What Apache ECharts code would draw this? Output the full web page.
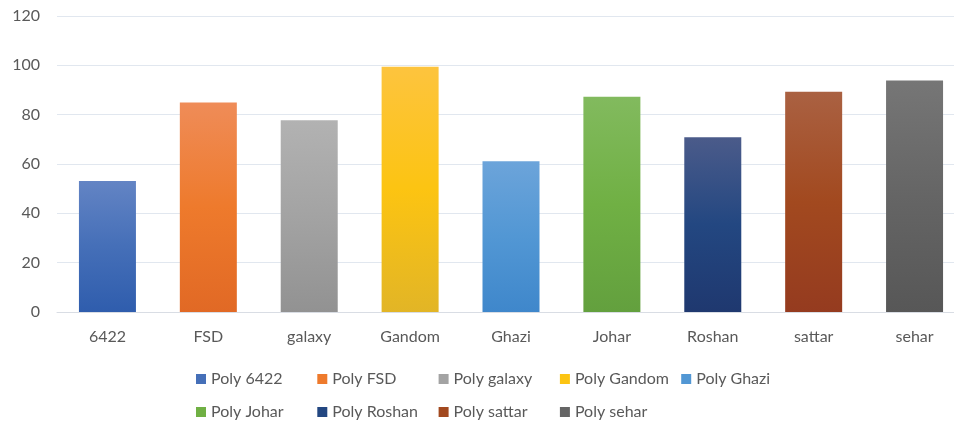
<!DOCTYPE html>
<html>
<head>
<meta charset="utf-8">
<style>
  html, body { margin: 0; padding: 0; background: #fff; overflow: hidden; }
  #container { width: 966px; height: 426px; }
</style>
<script src="https://cdn.jsdelivr.net/npm/echarts@6/dist/echarts.min.js"></script>
</head>
<body>
<div id="container"></div>
<script>
// categories on the x axis
var categories = ['6422', 'FSD', 'galaxy', 'Gandom', 'Ghazi', 'Johar', 'Roshan', 'sattar', 'sehar']
// one series per variety, legend names
var seriesNames = ['Poly 6422', 'Poly FSD', 'Poly galaxy', 'Poly Gandom', 'Poly Ghazi',
    'Poly Johar', 'Poly Roshan', 'Poly sattar', 'Poly sehar']
// bar heights
var values = [53.1, 84.9, 77.7, 99.4, 61.1, 87.3, 70.8, 89.3, 93.9]
// y axis ticks
var yTicks = [0, 20, 40, 60, 80, 100, 120]

// colours: light top, base middle, dark bottom
var colorStops = [
    ['#6384c4', '#456fb8', '#2f5dad'],
    ['#ef8c58', '#ee7a2c', '#e16925'],
    ['#b2b2b2', '#a3a3a3', '#929292'],
    ['#fdc43e', '#fcc412', '#e2b526'],
    ['#6ca4da', '#5297d4', '#3f87cb'],
    ['#82ba5e', '#70b044', '#63a03e'],
    ['#4b5b8a', '#234781', '#1f386f'],
    ['#aa6142', '#a2491f', '#953b1f'],
    ['#767676', '#656565', '#575757']
]

var dom = document.getElementById('container')
var myChart = echarts.init(dom)
var fontFamily = 'Lato'

var series = []
for (var i = 0; i < seriesNames.length; i++) {
    var data = []
    for (var j = 0; j < categories.length; j++) {
        data.push(j == i ? values[i] : '-')
    }
    var c = colorStops[i]
    series.push({
        name: seriesNames[i],
        type: 'bar',
        stack: 'all',
        barWidth: 57,
        data: data,
        itemStyle: {
            color: new echarts.graphic.LinearGradient(0, 0, 0, 1, [
                { offset: 0, color: c[0] },
                { offset: 0.5, color: c[1] },
                { offset: 1, color: c[2] }
            ])
        }
    })
}

function legendRow(names, top) {
    return {
        data: names.map(function (n) {
            return { name: n, itemStyle: { color: colorStops[seriesNames.indexOf(n)][1] } }
        }),
        left: 196,
        top: top,
        padding: 0,
        orient: 'horizontal',
        icon: 'rect',
        itemWidth: 10,
        itemHeight: 10,
        itemGap: 2.3,
        selectedMode: false,
        textStyle: {
            color: '#595959',
            fontSize: 16,
            fontFamily: fontFamily,
            width: 104,
            lineHeight: 20
        }
    }
}

var option = {
    animation: false,
    backgroundColor: '#ffffff',
    legend: [
        legendRow(seriesNames.slice(0, 5), 369),
        legendRow(seriesNames.slice(5), 402)
    ],
    grid: {
        left: 57,
        top: 16,
        right: 1,
        bottom: 114,
        containLabel: false
    },
    xAxis: {
        type: 'category',
        data: categories,
        axisLine: { lineStyle: { color: '#d9dde4', width: 1 } },
        axisTick: { show: false },
        axisLabel: {
            color: '#595959',
            fontSize: 16,
            fontFamily: fontFamily,
            margin: 17
        }
    },
    yAxis: {
        type: 'value',
        min: yTicks[0],
        max: yTicks[yTicks.length - 1],
        interval: yTicks[1] - yTicks[0],
        axisLine: { show: false },
        axisTick: { show: false },
        splitLine: { lineStyle: { color: '#e1e7ef', width: 1 } },
        axisLabel: {
            color: '#595959',
            fontSize: 16,
            fontFamily: fontFamily,
            margin: 17
        }
    },
    series: series
}

myChart.setOption(option)
</script>
</body>
</html>
